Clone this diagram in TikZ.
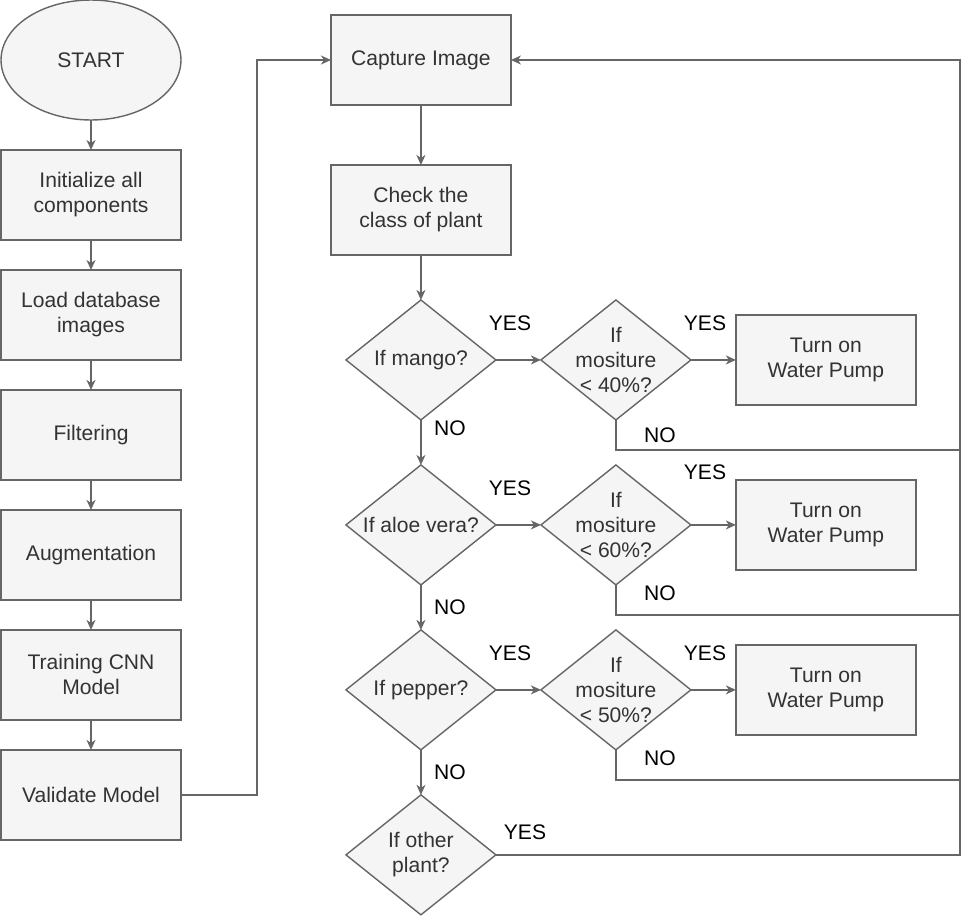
\documentclass[tikz,border=0pt]{standalone}
\usepackage{fontspec}
\setmainfont{Liberation Sans}
\usetikzlibrary{arrows.meta,positioning,shapes.geometric}
\definecolor{boxfill}{HTML}{F5F5F5}
\definecolor{boxline}{HTML}{666666}
\definecolor{boxtext}{HTML}{333333}
\newcommand{\flowfont}{\fontsize{12}{14.2}\selectfont}
\tikzset{
  stepbox/.style={draw=boxline,fill=boxfill,text=boxtext,line width=0.8pt,outer sep=0pt,minimum width=3.6cm,minimum height=1.8cm,align=center,font=\flowfont},
  startnode/.style={stepbox,ellipse,minimum height=2.4cm},
  decision/.style={draw=boxline,fill=boxfill,line width=0.8pt,diamond,outer sep=0pt,minimum width=3cm,minimum height=2.4cm,inner sep=0pt},
  inside/.style={text=boxtext,align=center,font=\flowfont},
  flow/.style={-{Stealth[length=2mm,width=1.8mm,inset=0.6mm]},draw=boxline,line width=0.8pt},
  link/.style={draw=boxline,line width=0.8pt},
  tag/.style={font=\flowfont,text=black,inner sep=0pt}
}

\begin{document}
\begin{tikzpicture}[x=0.02cm,y=-0.02cm,node distance=0.6cm]
  \useasboundingbox (0,0) rectangle (974,917);
  % training column
  \node[startnode] (start) at (91,60) {START};
  \node[stepbox,below=of start] (init) {Initialize all\\components};
  \node[stepbox,below=of init] (load) {Load database\\images};
  \node[stepbox,below=of load] (filter) {Filtering};
  \node[stepbox,below=of filter] (augment) {Augmentation};
  \node[stepbox,below=of augment] (train) {Training CNN\\Model};
  \node[stepbox,below=of train] (validate) {Validate Model};
  \foreach \a/\b in {start/init,init/load,load/filter,filter/augment,augment/train,train/validate}
    \draw[flow] (\a) -- (\b);

  % monitoring column
  \node[stepbox,right=3cm of start] (capture) {Capture Image};
  \node[stepbox,below=1.2cm of capture] (check) {Check the\\class of plant};
  \node[decision,below=0.9cm of check,label={[inside]center:If mango?}] (mango) {};
  \node[decision,below=0.9cm of mango,label={[inside]center:If aloe vera?}] (aloe) {};
  \node[decision,below=0.9cm of aloe,label={[inside]center:If pepper?}] (pepper) {};
  \node[decision,below=0.9cm of pepper,label={[inside]center:{If other\\plant?}}] (other) {};

  \node[decision,right=0.9cm of mango,label={[inside]center:{If\\mositure\\< 40\%?}}] (mo1) {};
  \node[decision,right=0.9cm of aloe,label={[inside]center:{If\\mositure\\< 60\%?}}] (mo2) {};
  \node[decision,right=0.9cm of pepper,label={[inside]center:{If\\mositure\\< 50\%?}}] (mo3) {};
  \node[stepbox,right=0.9cm of mo1] (pump1) {Turn on\\Water Pump};
  \node[stepbox,right=0.9cm of mo2] (pump2) {Turn on\\Water Pump};
  \node[stepbox,right=0.9cm of mo3] (pump3) {Turn on\\Water Pump};
  \coordinate (rail) at (960,60);

  \draw[flow] (validate.east) -- ++(76,0) |- (capture.west);
  \draw[flow] (capture) -- (check);
  \draw[flow] (check) -- (mango);
  \draw[flow] (mango) -- (aloe);
  \draw[flow] (aloe) -- (pepper);
  \draw[flow] (pepper) -- (other);
  \foreach \p/\m/\w in {mango/mo1/pump1,aloe/mo2/pump2,pepper/mo3/pump3}{
    \draw[flow] (\p) -- (\m);
    \draw[flow] (\m) -- (\w);
    \draw[link] (\m.south) -- ++(0,30) coordinate (\m no) -- (\m no -| rail);
  }
  \draw[flow] (other.east) -| (rail) -- (capture.east);

  % branch labels
  \node[tag] (y1) at (510,323) {YES};
  \node[tag] (y2) at (705,323) {YES};
  \node[tag] (n1) at (450,428) {NO};
  \node[tag] (n2) at (660,435) {NO};
  \node[tag] (y3) at (510,488) {YES};
  \node[tag] (y4) at (705,472) {YES};
  \node[tag] (n3) at (450,607) {NO};
  \node[tag] (n4) at (660,593) {NO};
  \node[tag] (y5) at (510,653) {YES};
  \node[tag] (y6) at (705,653) {YES};
  \node[tag] (n5) at (450,772) {NO};
  \node[tag] (n6) at (660,758) {NO};
  \node[tag] (y7) at (525,832) {YES};
\end{tikzpicture}
\end{document}
